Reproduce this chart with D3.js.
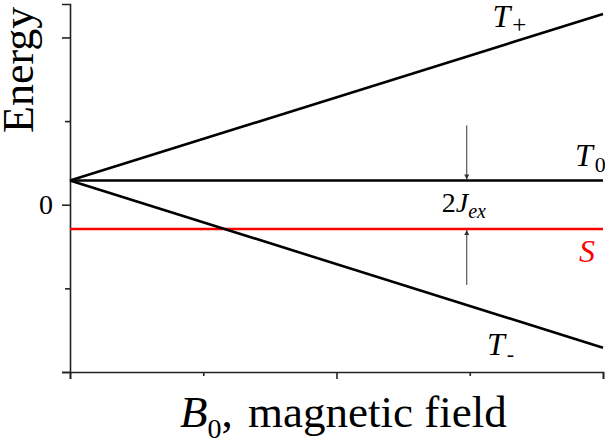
<!DOCTYPE html>
<html>
<head>
<meta charset="utf-8">
<script src="https://cdn.jsdelivr.net/npm/d3@7"></script>
<style>
  body { margin: 0; background: #fff; }
</style>
</head>
<body>
<svg width="605" height="443"></svg>
<script>
// data
var fieldDomain = [0, 4];
var energyDomain = [-2, 2.4];
var fieldTicks = [0, 1, 2, 3, 4];
var fieldMajor = [0, 2, 4];
var energyTicks = [-2, -1, 0, 1, 2];
var energyMajor = [-2, 0, 2];
var energyLabels = { "0": "0" };

// levels: energy at B0 = 0 and at the right end
var fieldPts = [0, 4];
var tPlus = [0.29, 2.28];
var tZero = [0.29, 0.29];
var singlet = [-0.29, -0.29];
var tMinus = [0.29, -1.71];

var serif = "'Liberation Serif'";

var svg = d3.select("svg"),
    width = +svg.attr("width"),
    height = +svg.attr("height");

var x = d3.scaleLinear().domain(fieldDomain).range([70, 603]);
var y = d3.scaleLinear().domain(energyDomain).range([372, 4]);

// axes
var yAxis = svg.append("g")
    .attr("transform", "translate(70,0)")
    .call(d3.axisLeft(y).tickValues(energyTicks).tickSizeOuter(0).tickSize(8).tickPadding(9)
        .tickFormat(function(d) { return energyLabels[d] || ""; }));
yAxis.selectAll(".tick line")
    .attr("x2", function(d) { return energyMajor.indexOf(d) >= 0 ? -8 : -5; });
yAxis.attr("font-family", null).attr("font-size", null);

var xAxis = svg.append("g")
    .attr("transform", "translate(0,372)")
    .call(d3.axisBottom(x).tickValues(fieldTicks).tickSizeOuter(0).tickSize(7)
        .tickFormat(""));
xAxis.selectAll(".tick line")
    .attr("y2", function(d) { return fieldMajor.indexOf(d) >= 0 ? 7 : 4; });

svg.selectAll(".domain, .tick line")
    .attr("stroke", "#222")
    .attr("stroke-width", 1.6);
yAxis.selectAll(".tick text")
    .style("font-family", serif)
    .style("font-size", "28px")
    .attr("fill", "#000");

// level lines
var line = d3.line()
    .x(function(d, i) { return x(fieldPts[i]); })
    .y(function(d) { return y(d); });

var levels = [
  { name: "T+", vals: tPlus, color: "#000" },
  { name: "T0", vals: tZero, color: "#000" },
  { name: "S", vals: singlet, color: "#ff0000" },
  { name: "T-", vals: tMinus, color: "#000" }
];

svg.selectAll("path.level")
    .data(levels)
    .enter()
    .append("path")
      .attr("class", "level")
      .attr("d", function(d) { return line(d.vals); })
      .attr("fill", "none")
      .attr("stroke", function(d) { return d.color; })
      .attr("stroke-width", 2.6);

// arrow marker
svg.append("defs").append("marker")
    .attr("id", "head")
    .attr("viewBox", "0 0 10 10")
    .attr("refX", 10)
    .attr("refY", 5)
    .attr("markerWidth", 5)
    .attr("markerHeight", 6)
    .attr("markerUnits", "userSpaceOnUse")
    .attr("orient", "auto")
  .append("path")
    .attr("d", "M0,0 L10,5 L0,10 Z")
    .attr("fill", "#333");

var ax = x(3) - 3;
svg.append("line")
    .attr("x1", ax).attr("x2", ax)
    .attr("y1", y(tZero[0]) - 55).attr("y2", y(tZero[0]) - 1)
    .attr("stroke", "#333").attr("stroke-width", 1)
    .attr("marker-end", "url(#head)");
svg.append("line")
    .attr("x1", ax).attr("x2", ax)
    .attr("y1", y(singlet[0]) + 56).attr("y2", y(singlet[0]) + 1)
    .attr("stroke", "#333").attr("stroke-width", 1)
    .attr("marker-end", "url(#head)");

// labels
function label(tx, ty, main, sub, subDy, subSize, color, size) {
  var t = svg.append("text")
      .attr("x", tx).attr("y", ty)
      .style("font-family", serif)
      .style("font-size", size + "px")
      .attr("fill", color);
  t.append("tspan").style("font-style", "italic").text(main);
  if (sub) {
    t.append("tspan")
      .attr("dy", subDy)
      .attr("dx", 2)
      .style("font-size", subSize + "px")
      .text(sub);
  }
  return t;
}

label(x(3.17), 27, "T", "+", 6, 25, "#000", 32);
label(x(3.79), 166, "T", "0", 6, 22, "#000", 32);
label(x(3.82), 262, "S", null, 0, 0, "#ff0000", 32);
label(x(3.13), 355, "T", "-", 6, 22, "#000", 32);

var jl = svg.append("text")
    .attr("x", x(2.79)).attr("y", 212)
    .style("font-family", serif)
    .style("font-size", "28px").attr("fill", "#000");
jl.append("tspan").text("2");
jl.append("tspan").style("font-style", "italic").text("J");
jl.append("tspan").style("font-style", "italic").style("font-size", "20px").attr("dy", 6).text("ex");

// axis titles
var xt = svg.append("text")
    .attr("x", 180).attr("y", 427)
    .style("font-family", serif)
    .style("font-size", "45px").attr("fill", "#000");
xt.append("tspan").style("font-style", "italic").text("B");
xt.append("tspan").style("font-size", "28px").attr("dy", 11).text("0");
xt.append("tspan").attr("dy", -11).text(",");
xt.append("tspan").attr("dx", 4).text(" magnetic field");

svg.append("text")
    .attr("transform", "translate(33,133) rotate(-90)")
    .style("font-family", serif)
    .style("font-size", "44px").attr("fill", "#000")
    .text("Energy");
</script>
</body>
</html>
